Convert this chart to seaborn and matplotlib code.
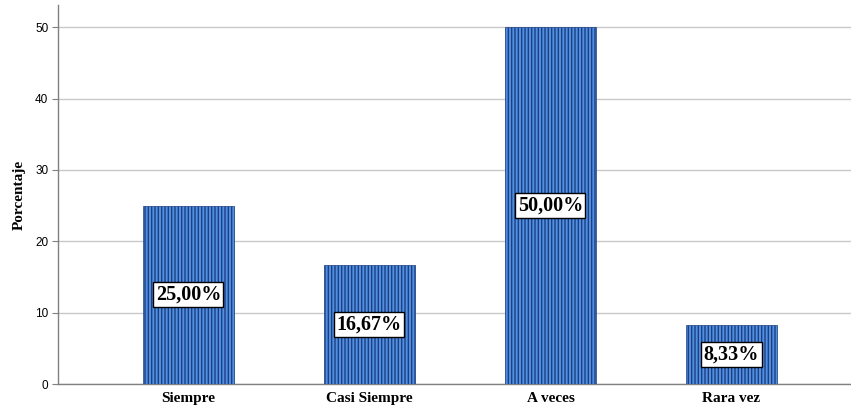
import matplotlib
matplotlib.use("Agg")
import matplotlib.pyplot as plt
import seaborn as sns
import pandas as pd

CATEGORIES = ["Siempre", "Casi Siempre", "A veces", "Rara vez"]
PERCENTS = [25.00, 16.67, 50.00, 8.33]
LABELS = ["25,00%", "16,67%", "50,00%", "8,33%"]
Y_TICKS = [0, 10, 20, 30, 40, 50]

sns.set_style("white")
plt.rcParams["hatch.color"] = "#1f3f80"
plt.rcParams["hatch.linewidth"] = 1.0
plt.rcParams["text.color"] = "black"
plt.rcParams["ytick.labelcolor"] = "black"
plt.rcParams["xtick.labelcolor"] = "black"
plt.rcParams["axes.labelcolor"] = "black"

df = pd.DataFrame({"cat": CATEGORIES, "pct": PERCENTS})

fig = plt.figure(figsize=(8.51, 4.11), dpi=100)
ax = fig.add_axes([58 / 851, 27 / 411, (851 - 58) / 851, (384 - 5) / 411])

sns.barplot(data=df, x="cat", y="pct", color="#5090e2", width=0.5,
            saturation=1, ax=ax, zorder=3, edgecolor="#1f3f80", linewidth=0.5)
for p in ax.patches:
    p.set_hatch("|||||")

for i, (v, lab) in enumerate(zip(PERCENTS, LABELS)):
    ax.text(i, v / 2, lab, ha="center", va="center", fontsize=14.5,
            fontweight="bold", family="Liberation Serif", zorder=5, color="black",
            bbox=dict(boxstyle="square,pad=0.12", fc="white", ec="black", lw=1))

ax.set_xlim(-0.72, 3.66)
ax.set_ylim(0, 53.1)
ax.set_yticks(Y_TICKS)
ax.set_yticklabels([str(t) for t in Y_TICKS], family="Liberation Sans", fontsize=8.5)
ax.yaxis.grid(True, color="#c8c8c8", lw=1, zorder=0)
ax.set_axisbelow(True)
ax.tick_params(axis="y", length=4, color="#808080", width=0.8, pad=3, left=True)
ax.tick_params(axis="x", length=0, pad=6)
for lab in ax.get_xticklabels():
    lab.set_family("Liberation Serif")
    lab.set_fontweight("bold")
    lab.set_fontsize(11)
ax.set_xlabel("")
ax.set_ylabel("Porcentaje", family="Liberation Serif", fontweight="bold",
              fontsize=11, labelpad=6.5)
for s in ["top", "right"]:
    ax.spines[s].set_visible(False)
for s in ["left", "bottom"]:
    ax.spines[s].set_color("#808080")
    ax.spines[s].set_linewidth(1)

fig.savefig("out.png", dpi=100)
